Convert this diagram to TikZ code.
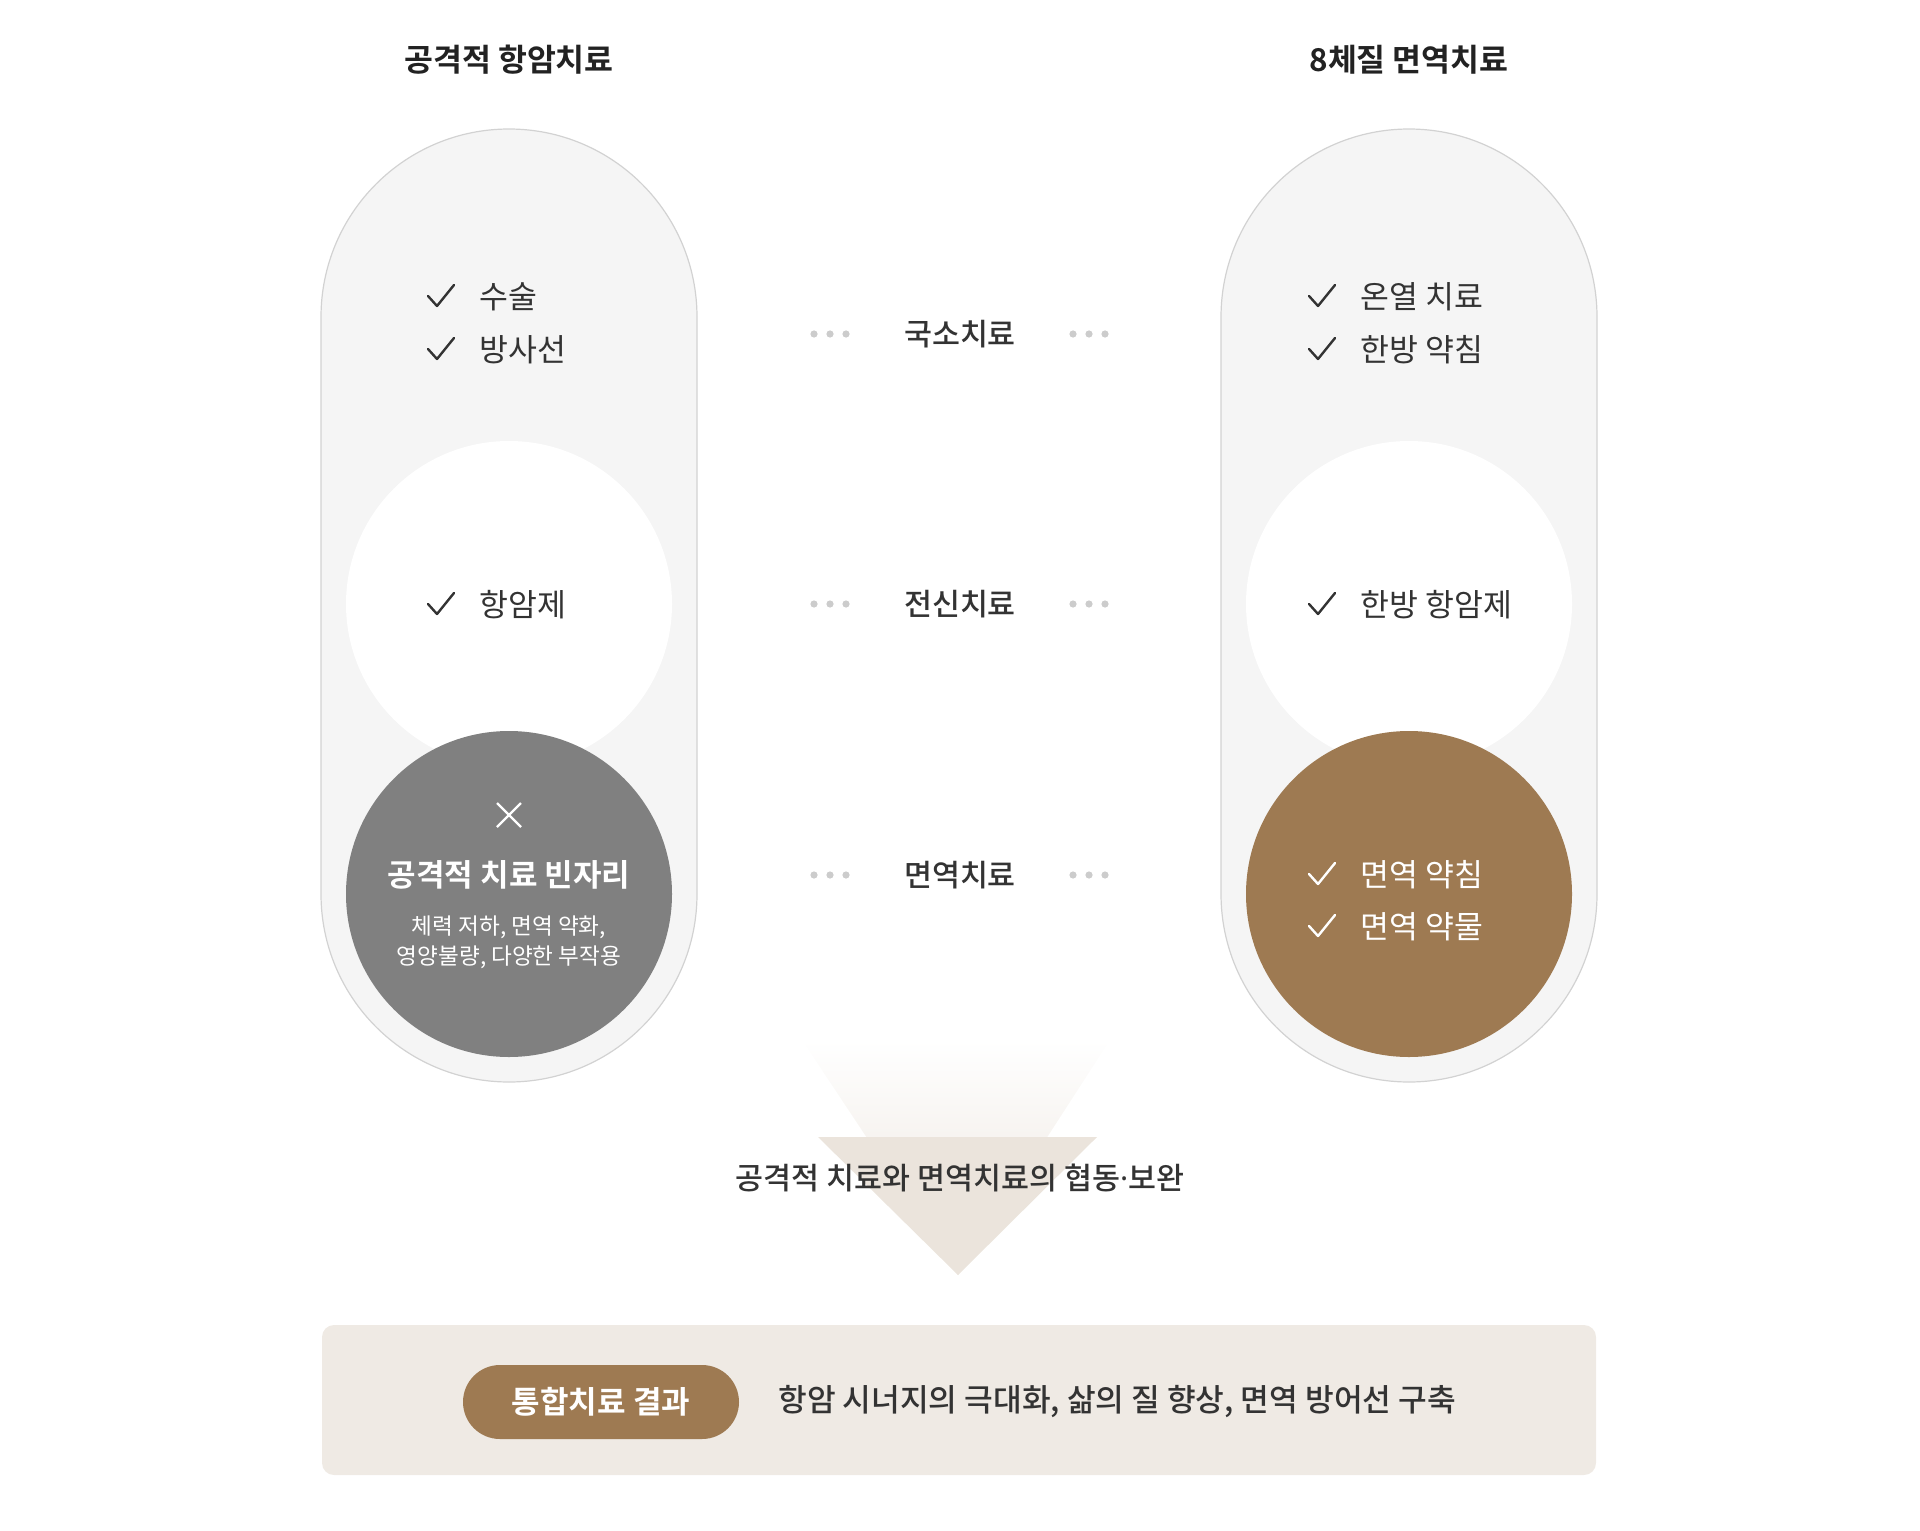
\documentclass[tikz,border=0pt]{standalone}
\usepackage{fontspec}
\setmainfont{Noto Sans CJK KR}[BoldFont=Noto Sans CJK KR Bold]
\newfontfamily\krmed{Noto Sans CJK KR Medium}
\newfontfamily\latinsans{Noto Sans}
\usetikzlibrary{calc,positioning,shapes.geometric}

\definecolor{pillfill}{HTML}{F5F5F5}
\definecolor{pillline}{HTML}{D2D2D2}
\definecolor{darktext}{HTML}{333333}
\definecolor{titletext}{HTML}{222222}
\definecolor{voidgray}{HTML}{808080}
\definecolor{immbrown}{HTML}{9E7A52}
\definecolor{dotgray}{HTML}{CCCCCC}
\definecolor{arrowbeige}{HTML}{EBE4DC}
\definecolor{boxbeige}{HTML}{EFEAE4}

\begin{document}
\begin{tikzpicture}[x=0.5pt,y=-0.5pt,
    title/.style={font=\bfseries\fontsize{15.7pt}{19pt}\selectfont, text=titletext, inner sep=0pt},
    item/.style={font=\fontsize{15.7pt}{19pt}\selectfont, text=darktext, inner sep=0pt, anchor=west},
    tick/.style={line width=1.2pt, darktext, line cap=round, line join=round},
    midlabel/.style={font=\krmed\fontsize{15.2pt}{18pt}\selectfont, text=darktext, inner sep=0pt},
    disc/.style={circle, minimum size=163pt, inner sep=0pt},
    pill/.style={fill=pillfill, draw=pillline, line width=0.6pt, rounded corners=94pt}]
\useasboundingbox (0,0) rectangle (1920,1530);

% column titles
\node[title] (lefttitle) at (509,60) {공격적 항암치료};
\node[title] (righttitle) at (1409,60) {8체질 면역치료};

% capsules
\draw[pill] (321,129) rectangle (697,1082);
\draw[pill] (1221,129) rectangle (1597,1082);

% inner discs
\node[disc, fill=white] (leftmid) at (509,604) {};
\node[disc, fill=white] (rightmid) at (1409,604) {};
\node[disc, fill=voidgray] (leftlow) at (509,894) {};
\node[disc, fill=immbrown] (rightlow) at (1409,894) {};

% left items
\node[item] (surgery) at (479,297) {수술};
\node[item] (radiation) at (479,350) {방사선};
\node[item] (chemo) at (479,605) {항암제};
\foreach \n in {surgery,radiation,chemo}
  \draw[tick] (\n.west) ++(-51,-1) -- ++(9,10) -- ++(17,-21);

% empty slot of the aggressive side
\draw[white, line width=1.2pt] (497,803) -- (521,827) (497,827) -- (521,803);
\node[font=\bfseries\fontsize{15.5pt}{18pt}\selectfont, text=white, inner sep=0pt] (voidtitle) at (509,875) {공격적 치료 빈자리};
\node[font=\fontsize{11.3pt}{15pt}\selectfont, text=white, inner sep=0pt, align=center] (voidtext) at (509,942) {체력 저하, 면역 약화,\\영양불량, 다양한 부작용};

% right items
\node[item] (thermo) at (1360,297) {온열 치료};
\node[item] (pharma) at (1360,350) {한방 약침};
\node[item] (herbal) at (1360,605) {한방 항암제};
\foreach \n in {thermo,pharma,herbal}
  \draw[tick] (\n.west) ++(-51,-1) -- ++(9,10) -- ++(17,-21);
\node[item, text=white] (immacu) at (1360,875) {면역 약침};
\node[item, text=white] (immdrug) at (1360,927) {면역 약물};
\foreach \n in {immacu,immdrug}
  \draw[tick, white] (\n.west) ++(-51,-1) -- ++(9,10) -- ++(17,-21);

% middle labels
\node[midlabel] (local) at (960,334) {국소치료};
\node[midlabel] (systemic) at (960,604) {전신치료};
\node[midlabel] (immune) at (960,875) {면역치료};
\foreach \y in {334,604,875}
  \foreach \x in {814,830,846,1073,1089,1105}
    \fill[dotgray] (\x,\y) circle[radius=3.6];

% arrow down
\shade[top color=white, bottom color=arrowbeige] (802,1040) -- (1110,1040) -- (958,1275) -- cycle;
\fill[arrowbeige] (818,1137) -- (1097,1137) -- (958,1275) -- cycle;
\node[midlabel] (synergy) at (960,1178) {공격적 치료와 면역치료의 협동{\latinsans\bfseries ·}보완};

% result box
\fill[boxbeige, rounded corners=6pt] (322,1325) rectangle (1596,1475);
\node[fill=immbrown, rounded corners=18.5pt, minimum width=138pt, minimum height=37pt,
  text=white, font=\bfseries\fontsize{15.5pt}{18pt}\selectfont] (resultbtn) at (601,1402) {통합치료 결과};
\node[midlabel, font=\krmed\fontsize{15.6pt}{18pt}\selectfont, anchor=west] (resulttext) at (778,1402) {항암 시너지의 극대화, 삶의 질 향상, 면역 방어선 구축};

\end{tikzpicture}
\end{document}
